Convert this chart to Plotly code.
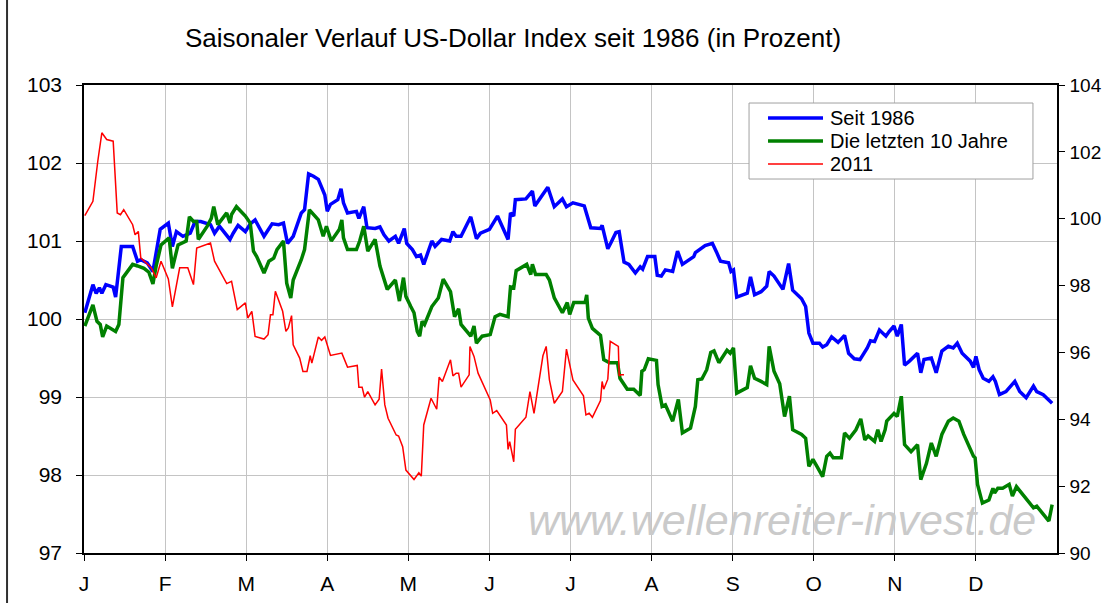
import plotly.graph_objects as go

# x = month position (0 = start of January, 12 = end of December)
month_labels = ["J", "F", "M", "A", "M", "J", "J", "A", "S", "O", "N", "D"]
month_ticks = list(range(12))

series_names = ["Seit 1986", "Die letzten 10 Jahre", "2011"]
series_colors = ["#0000FF", "#008000", "#FF0000"]
series_widths = [3.5, 3.5, 1.5]

blue_x = [0.01,0.11,0.15,0.19,0.22,0.27,0.36,0.39,0.46,0.60,0.66,0.70,0.78,0.85,0.94,1.04,1.09,1.14,1.22,1.31,1.37,1.44,1.56,1.61,1.67,1.80,1.84,1.90,1.99,2.05,2.11,2.22,2.32,2.40,2.46,2.51,2.58,2.68,2.72,2.77,2.83,2.89,2.97,3.00,3.04,3.13,3.17,3.20,3.25,3.36,3.39,3.45,3.49,3.59,3.65,3.70,3.76,3.84,3.88,3.95,3.98,4.05,4.10,4.15,4.19,4.29,4.33,4.41,4.51,4.55,4.59,4.65,4.77,4.84,4.89,5.00,5.10,5.18,5.23,5.26,5.30,5.32,5.45,5.53,5.56,5.72,5.80,5.90,5.95,6.03,6.17,6.25,6.37,6.39,6.46,6.50,6.56,6.60,6.66,6.72,6.80,6.86,6.89,6.95,7.04,7.07,7.12,7.17,7.26,7.32,7.38,7.52,7.54,7.66,7.75,7.80,7.85,7.95,7.98,8.01,8.05,8.18,8.22,8.27,8.35,8.42,8.45,8.51,8.62,8.69,8.74,8.85,8.90,8.94,8.99,9.07,9.11,9.16,9.22,9.30,9.38,9.43,9.50,9.57,9.62,9.66,9.70,9.75,9.81,9.89,9.93,9.99,10.03,10.08,10.12,10.18,10.28,10.32,10.36,10.45,10.51,10.58,10.66,10.72,10.77,10.83,10.93,10.97,11.00,11.04,11.09,11.16,11.21,11.24,11.29,11.37,11.48,11.54,11.62,11.71,11.75,11.83,11.94]
blue_y = [100.08,100.44,100.33,100.40,100.33,100.44,100.41,100.28,100.93,100.93,100.74,100.76,100.72,100.61,101.15,101.23,100.93,101.12,101.06,101.10,101.25,101.25,101.21,101.10,101.19,101.02,101.10,101.20,101.12,101.22,101.27,101.06,101.22,101.21,101.23,100.97,101.06,101.36,101.40,101.86,101.83,101.79,101.59,101.38,101.47,101.53,101.67,101.49,101.36,101.38,101.29,101.44,101.17,101.16,101.18,101.08,101.00,101.06,100.97,101.16,100.97,100.89,100.80,100.82,100.70,101.00,100.93,101.02,101.00,101.12,101.06,101.06,101.31,101.03,101.10,101.15,101.32,101.15,101.02,101.36,101.32,101.53,101.54,101.64,101.45,101.69,101.44,101.54,101.44,101.49,101.45,101.17,101.16,101.20,100.90,100.98,101.11,101.12,100.73,100.70,100.59,100.67,100.64,100.80,100.80,100.56,100.55,100.63,100.61,100.87,100.70,100.80,100.85,100.94,100.97,100.86,100.74,100.72,100.61,100.63,100.28,100.33,100.54,100.31,100.35,100.42,100.61,100.55,100.38,100.71,100.37,100.26,100.16,99.82,99.69,99.69,99.64,99.67,99.77,99.70,99.79,99.56,99.49,99.48,99.56,99.63,99.72,99.71,99.86,99.78,99.84,99.91,99.78,99.93,99.41,99.46,99.56,99.31,99.48,99.50,99.31,99.59,99.65,99.63,99.69,99.56,99.46,99.38,99.52,99.35,99.24,99.20,99.26,99.20,99.03,99.07,99.20,99.07,98.99,99.14,99.07,99.03,98.92]

green_x = [0.01,0.11,0.16,0.20,0.23,0.28,0.39,0.43,0.48,0.60,0.66,0.74,0.80,0.85,0.89,0.95,1.05,1.09,1.16,1.26,1.30,1.35,1.39,1.41,1.52,1.57,1.60,1.65,1.76,1.80,1.82,1.88,1.99,2.05,2.09,2.13,2.22,2.28,2.34,2.38,2.46,2.50,2.55,2.58,2.68,2.72,2.78,2.89,2.95,2.99,3.05,3.15,3.18,3.20,3.25,3.36,3.40,3.45,3.50,3.59,3.65,3.74,3.84,3.89,3.94,3.97,4.03,4.07,4.11,4.14,4.17,4.20,4.29,4.37,4.43,4.52,4.57,4.62,4.65,4.71,4.77,4.81,4.84,4.91,5.01,5.07,5.13,5.23,5.26,5.30,5.33,5.46,5.51,5.53,5.57,5.70,5.74,5.80,5.90,5.96,5.99,6.04,6.18,6.20,6.22,6.27,6.37,6.41,6.48,6.58,6.61,6.70,6.78,6.86,6.88,6.91,6.96,7.06,7.08,7.13,7.17,7.26,7.33,7.38,7.48,7.54,7.57,7.62,7.68,7.73,7.77,7.83,7.93,7.97,8.01,8.05,8.18,8.22,8.27,8.35,8.42,8.45,8.51,8.58,8.64,8.70,8.74,8.85,8.90,8.94,8.99,9.05,9.11,9.16,9.20,9.24,9.34,9.38,9.44,9.52,9.58,9.63,9.67,9.75,9.79,9.83,9.88,9.90,9.99,10.03,10.08,10.12,10.20,10.28,10.32,10.39,10.45,10.51,10.58,10.66,10.72,10.79,10.85,10.97,10.99,11.02,11.08,11.16,11.21,11.23,11.27,11.33,11.41,11.45,11.50,11.71,11.75,11.90,11.94]
green_y = [99.91,100.18,99.97,99.93,99.77,99.91,99.84,99.93,100.53,100.70,100.68,100.65,100.60,100.45,100.68,100.95,101.04,100.65,100.95,101.00,101.31,101.25,101.25,101.02,101.19,101.29,101.44,101.21,101.36,101.23,101.34,101.44,101.32,101.23,100.87,100.80,100.59,100.74,100.78,100.89,101.00,100.46,100.27,100.50,100.76,100.89,101.40,101.27,101.06,101.19,101.00,101.15,101.27,101.04,100.89,100.89,101.00,101.19,100.87,101.02,100.68,100.38,100.50,100.23,100.53,100.29,100.16,100.08,99.84,99.78,99.97,99.93,100.16,100.27,100.51,100.35,100.03,100.13,99.93,99.86,99.78,99.91,99.69,99.78,99.80,100.03,100.06,100.03,100.41,100.40,100.62,100.70,100.57,100.70,100.57,100.57,100.50,100.27,100.08,100.21,100.06,100.21,100.21,100.31,100.01,99.88,99.79,99.48,99.44,99.44,99.24,99.10,99.10,99.02,99.33,99.35,99.49,99.47,99.16,98.88,98.90,98.69,98.97,98.54,98.60,98.88,99.22,99.23,99.35,99.57,99.59,99.44,99.60,99.56,99.63,99.05,99.12,99.40,99.24,99.20,99.16,99.65,99.33,99.17,98.75,99.01,98.58,98.52,98.47,98.11,98.20,98.09,97.98,98.24,98.28,98.22,98.22,98.54,98.47,98.58,98.72,98.45,98.50,98.43,98.58,98.43,98.58,98.69,98.79,98.75,99.01,98.39,98.30,98.39,97.94,98.15,98.41,98.24,98.52,98.69,98.73,98.69,98.52,98.24,98.22,97.88,97.64,97.68,97.83,97.77,97.83,97.83,97.88,97.73,97.85,97.58,97.60,97.41,97.62]

red_x = [0.01,0.11,0.17,0.22,0.28,0.36,0.41,0.45,0.49,0.60,0.63,0.67,0.70,0.83,0.89,0.95,1.04,1.09,1.18,1.28,1.35,1.39,1.56,1.61,1.76,1.82,1.89,1.99,2.02,2.07,2.11,2.22,2.27,2.30,2.33,2.36,2.45,2.49,2.52,2.56,2.58,2.66,2.70,2.75,2.79,2.81,2.89,2.93,2.97,3.04,3.18,3.25,3.37,3.39,3.43,3.46,3.50,3.59,3.64,3.67,3.71,3.75,3.85,3.88,3.93,3.97,4.07,4.13,4.16,4.19,4.28,4.35,4.38,4.42,4.52,4.55,4.59,4.62,4.65,4.75,4.76,4.81,4.86,5.01,5.04,5.09,5.21,5.23,5.25,5.30,5.32,5.45,5.50,5.55,5.66,5.70,5.74,5.80,5.90,5.95,6.03,6.16,6.19,6.23,6.27,6.37,6.39,6.41,6.46,6.49,6.59,6.60,6.62,6.66]
red_y = [100.09,100.52,101.72,102.57,102.37,102.32,100.17,100.12,100.27,99.82,99.52,99.62,98.83,98.53,98.23,98.73,98.20,97.36,98.53,98.53,98.03,99.12,99.27,98.73,98.06,98.13,97.28,97.48,97.03,97.23,96.48,96.40,96.53,97.13,97.13,97.83,97.23,96.63,96.73,97.10,96.23,95.83,95.43,95.43,95.90,95.68,96.46,96.36,96.46,95.91,95.98,95.56,95.61,94.96,94.96,94.66,94.83,94.43,94.60,95.50,94.43,94.03,93.53,93.50,93.18,92.48,92.20,92.40,92.30,93.83,94.63,94.30,95.26,95.13,95.78,95.30,95.38,95.38,94.96,95.33,96.18,95.88,95.38,94.58,94.18,94.26,93.83,93.10,93.33,92.73,93.70,94.06,94.83,94.18,95.90,96.18,95.18,94.48,94.83,96.10,95.18,94.70,94.13,94.18,94.06,94.56,95.13,94.90,95.20,96.33,96.18,95.30,95.33,95.33]

FONT = "Arial, 'Liberation Sans', sans-serif"

fig = go.Figure()
fig.add_trace(go.Scatter(x=blue_x, y=blue_y, mode="lines", name=series_names[0],
                         line=dict(color=series_colors[0], width=series_widths[0])))
fig.add_trace(go.Scatter(x=green_x, y=green_y, mode="lines", name=series_names[1],
                         line=dict(color=series_colors[1], width=series_widths[1])))
fig.add_trace(go.Scatter(x=red_x, y=red_y, mode="lines", name=series_names[2], yaxis="y2",
                         line=dict(color=series_colors[2], width=series_widths[2])))

axis_common = dict(showline=True, linecolor="black", linewidth=1.5, automargin=False,
                   ticks="outside", ticklen=6, tickcolor="black", zeroline=False)

fig.update_layout(
    width=1102, height=603,
    margin=dict(l=84, r=45, t=85, b=50, autoexpand=False),
    paper_bgcolor="white", plot_bgcolor="white",
    font=dict(family=FONT, color="black", size=21),
    showlegend=False,
    xaxis=dict(range=[0, 12], tickmode="array", tickvals=month_ticks, ticktext=month_labels,
               showgrid=True, gridcolor="#c4c4c4", gridwidth=1, mirror=True,
               ticklabelstandoff=5, tickfont=dict(size=21), **axis_common),
    yaxis=dict(range=[97, 103], dtick=1, showgrid=True, gridcolor="#c4c4c4", gridwidth=1,
               ticklabelstandoff=10, tickfont=dict(size=21), **axis_common),
    yaxis2=dict(range=[90, 104], dtick=2, overlaying="y", side="right", showgrid=False,
                ticklabelstandoff=1, tickfont=dict(size=19), **axis_common),
)

# title
fig.add_annotation(text="Saisonaler Verlauf US-Dollar Index seit 1986 (in Prozent)",
                   xref="paper", yref="paper", x=0.441, y=1.101, xanchor="center", yanchor="middle",
                   showarrow=False, font=dict(size=26, family=FONT, color="black"))

# watermark
fig.add_annotation(text="<i>www.wellenreiter-invest.de</i>",
                   xref="paper", yref="paper", x=0.717, y=0.07, xanchor="center", yanchor="middle",
                   showarrow=False, font=dict(size=43, family=FONT, color="#cacaca"))

# legend box
fig.add_shape(type="rect", xref="paper", yref="paper", x0=0.6835, x1=0.9753, y0=0.7991, y1=0.9615,
              line=dict(color="#a0a0a0", width=1), fillcolor="white", layer="above")
leg_y = [0.9295, 0.8803, 0.8312]
for name, col, w, yy in zip(series_names, series_colors, series_widths, leg_y):
    fig.add_shape(type="line", xref="paper", yref="paper", x0=0.7030, x1=0.7595, y0=yy, y1=yy,
                  line=dict(color=col, width=w), layer="above")
    fig.add_annotation(text=name, xref="paper", yref="paper", x=0.7657, y=yy,
                       xanchor="left", yanchor="middle", showarrow=False, borderpad=0,
                       font=dict(size=20, family=FONT, color="black"))

# outer frame line on the left
fig.add_shape(type="line", xref="paper", yref="paper", x0=-0.0791, x1=-0.0791, y0=-0.2, y1=1.3,
              line=dict(color="#303030", width=2))

fig.write_html("out.html", config={"displayModeBar": False},
               post_script="document.body.style.margin='0px';document.body.style.overflow='hidden';")
